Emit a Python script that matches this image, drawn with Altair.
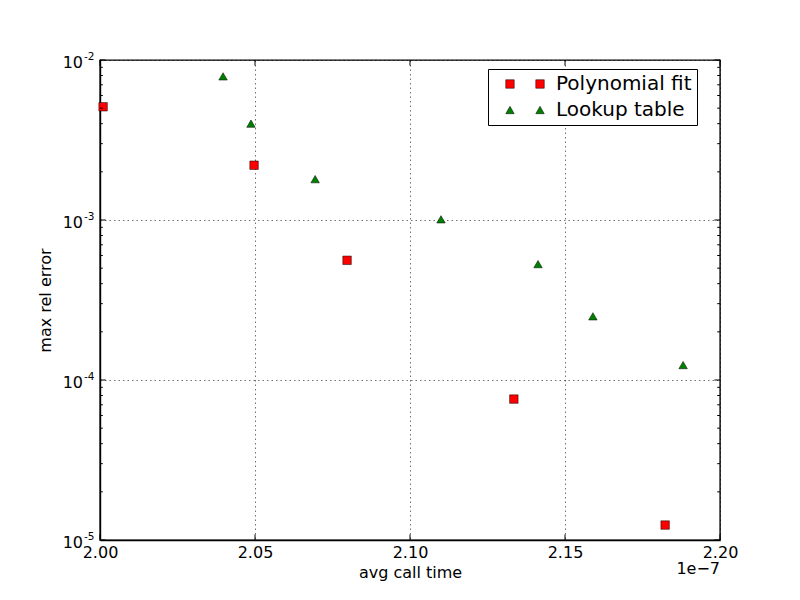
import altair as alt
import pandas as pd

# Data (avg call time in seconds, max relative error)
poly_time = [2.001e-7, 2.0497e-7, 2.0797e-7, 2.1335e-7, 2.1823e-7]
poly_err = [5.1e-3, 2.2e-3, 5.6e-4, 7.6e-5, 1.24e-5]
lut_time = [2.0397e-7, 2.0487e-7, 2.0694e-7, 2.1100e-7, 2.1413e-7, 2.1590e-7, 2.1881e-7]
lut_err = [7.9e-3, 4.0e-3, 1.8e-3, 1.01e-3, 5.3e-4, 2.5e-4, 1.24e-4]
series_names = ["Polynomial fit", "Lookup table"]
series_colors = ["#ff0000", "#008000"]

x_ticks = [2.00e-7, 2.05e-7, 2.10e-7, 2.15e-7, 2.20e-7]
y_ticks = [1e-5, 1e-4, 1e-3, 1e-2]
y_exponents = ["-5", "-4", "-3", "-2"]
y_minor = [m * d for d in [1e-5, 1e-4, 1e-3] for m in range(2, 10)]

FONT = "DejaVu Sans"
W, H = 620, 480

# legend glyphs: two markers per entry, as in the reference
SQ2 = "M-4.54,-1H-2.54V1H-4.54ZM2.54,-1H4.54V1H2.54Z"
TRI2 = "M-3.54,-0.87L-2.54,0.87L-4.54,0.87ZM3.54,-0.87L4.54,0.87L2.54,0.87Z"

poly_df = pd.DataFrame({"time": poly_time, "err": poly_err})
lut_df = pd.DataFrame({"time": lut_time, "err": lut_err})
leg_df = pd.DataFrame({"series": series_names})

xscale = alt.Scale(domain=[2.0e-7, 2.2e-7], nice=False, zero=False)
yscale = alt.Scale(type="log", domain=[1e-5, 1e-2], nice=False)

xax = alt.Axis(values=x_ticks, labelExpr="format(datum.value*1e7, '.2f')",
               title="avg call time", grid=True, ticks=False,
               labelPadding=4, titlePadding=4)
yax = alt.Axis(values=y_ticks, labels=False, title="max rel error",
               grid=True, ticks=False, titlePadding=47)

pt_style = dict(filled=True, stroke="black", strokeWidth=0.5, opacity=1, size=72)

poly = alt.Chart(poly_df).mark_point(shape="square", fill=series_colors[0], **pt_style).encode(
    x=alt.X("time:Q", scale=xscale, axis=xax),
    y=alt.Y("err:Q", scale=yscale, axis=yax),
)
lut = alt.Chart(lut_df).mark_point(shape="triangle-up", fill=series_colors[1], **pt_style).encode(
    x=alt.X("time:Q", scale=xscale),
    y=alt.Y("err:Q", scale=yscale),
)

legend = alt.Legend(title=None, orient="none", legendX=388, legendY=9,
                    strokeColor="black", fillColor="white", padding=5,
                    labelFontSize=20, labelFont=FONT, labelColor="black",
                    symbolSize=72, symbolStrokeColor="black", symbolStrokeWidth=0.5,
                    symbolOffset=22, labelOffset=21, rowPadding=6,
                    labelExpr="datum.label + '\u00a0\u00a0\u00a0\u00a0'")

legend_src = alt.Chart(leg_df).transform_filter("false").mark_point(**pt_style).encode(
    color=alt.Color("series:N", scale=alt.Scale(domain=series_names, range=series_colors),
                    legend=legend),
    shape=alt.Shape("series:N", scale=alt.Scale(domain=series_names, range=[SQ2, TRI2]),
                    legend=legend),
)

xt = pd.DataFrame({"t": x_ticks})
yt = pd.DataFrame({"v": y_ticks, "e": y_exponents})
ym = pd.DataFrame({"v": y_minor})

tick_style = dict(color="black", strokeWidth=1)
xt_bottom = alt.Chart(xt).mark_rule(**tick_style).encode(
    x=alt.X("t:Q", scale=xscale), y=alt.value(H), y2=alt.value(H - 5.6))
xt_top = alt.Chart(xt).mark_rule(**tick_style).encode(
    x=alt.X("t:Q", scale=xscale), y=alt.value(0), y2=alt.value(5.6))
yt_left = alt.Chart(yt).mark_rule(**tick_style).encode(
    y=alt.Y("v:Q", scale=yscale), x=alt.value(0), x2=alt.value(5.6))
yt_right = alt.Chart(yt).mark_rule(**tick_style).encode(
    y=alt.Y("v:Q", scale=yscale), x=alt.value(W), x2=alt.value(W - 5.6))
ym_left = alt.Chart(ym).mark_rule(**tick_style).encode(
    y=alt.Y("v:Q", scale=yscale), x=alt.value(0), x2=alt.value(2.8))
ym_right = alt.Chart(ym).mark_rule(**tick_style).encode(
    y=alt.Y("v:Q", scale=yscale), x=alt.value(W), x2=alt.value(W - 2.8))

# y tick labels as 10 with a superscript exponent
ylab_base = alt.Chart(yt).mark_text(font=FONT, fontSize=16, align="right", baseline="middle",
                                    dy=2.5, color="black").encode(
    y=alt.Y("v:Q", scale=yscale), x=alt.value(-17), text=alt.value("10"))
ylab_exp = alt.Chart(yt).mark_text(font=FONT, fontSize=10.5, align="left", baseline="middle",
                                   dy=-3.5, color="black").encode(
    y=alt.Y("v:Q", scale=yscale), x=alt.value(-16), text="e:N")

offset_text = alt.Chart(pd.DataFrame({"s": ["1e\u22127"]})).mark_text(
    font=FONT, fontSize=16, align="right", baseline="middle", color="black").encode(
    text="s:N", x=alt.value(W), y=alt.value(H + 29))

chart = alt.layer(poly, lut, legend_src, xt_bottom, xt_top, yt_left, yt_right,
                  ym_left, ym_right, ylab_base, ylab_exp, offset_text).properties(
    width=W, height=H,
    autosize=alt.AutoSizeParams(type="none"),
    padding={"left": 92, "top": 52, "right": 72, "bottom": 52},
    background="white",
).configure_view(stroke="black", strokeWidth=1.4).configure_axis(
    labelFont=FONT, titleFont=FONT, labelFontSize=16, titleFontSize=16,
    labelColor="black", titleColor="black", titleFontWeight="normal",
    domainColor="black", domainWidth=1.4,
    gridColor="#000000", gridOpacity=0.7, gridDash=[1.5, 3], gridWidth=0.8,
    labelFlush=False, labelOverlap=False,
)

chart.save("out.html", embed_options={"renderer": "svg", "actions": False})
